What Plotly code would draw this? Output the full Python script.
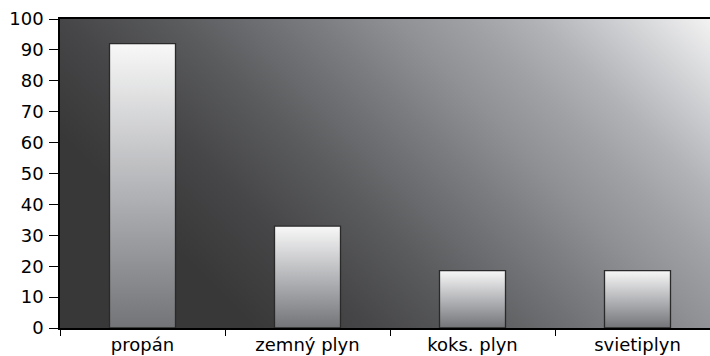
import base64
import plotly.graph_objects as go

# Data
categories = ["propán", "zemný plyn", "koks. plyn", "svietiplyn"]
values = [92, 33, 18.6, 18.6]
y_ticks = [0, 10, 20, 30, 40, 50, 60, 70, 80, 90, 100]

BAR_WIDTH = 0.4
FONT = "DejaVu Sans"


def svg_uri(svg):
    return "data:image/svg+xml;base64," + base64.b64encode(svg.encode("utf-8")).decode("ascii")


# Plot-area background: 45° gradient from dark (bottom-left) to near white (top-right)
W, H = 650, 309
D = 660 + H
bg_stops = [
    (0.00, "#383838"), (0.20, "#383838"), (0.32, "#464648"), (0.44, "#5b5c5e"),
    (0.58, "#7b7c80"), (0.66, "#8f9093"), (0.74, "#a0a1a4"), (0.81, "#b1b3b6"),
    (0.88, "#cacbce"), (1.00, "#f6f6f6"),
]
bg_svg = (
    f'<svg xmlns="http://www.w3.org/2000/svg" width="{W}" height="{H}" '
    f'viewBox="0 0 {W} {H}" preserveAspectRatio="none">'
    f'<defs><linearGradient id="g" gradientUnits="userSpaceOnUse" '
    f'x1="0" y1="{H}" x2="{D / 2}" y2="{H - D / 2}">'
    + "".join(f'<stop offset="{o}" stop-color="{c}"/>' for o, c in bg_stops)
    + f'</linearGradient></defs><rect width="{W}" height="{H}" fill="url(#g)"/></svg>'
)

# Bar fill: vertical gradient, light at the top and grey at the base
bar_svg = (
    '<svg xmlns="http://www.w3.org/2000/svg" width="10" height="100" '
    'viewBox="0 0 10 100" preserveAspectRatio="none">'
    '<defs><linearGradient id="b" x1="0" y1="0" x2="0" y2="1">'
    '<stop offset="0" stop-color="#f8f8f8"/>'
    '<stop offset="0.5" stop-color="#b5b6b9"/>'
    '<stop offset="1" stop-color="#737477"/>'
    '</linearGradient></defs><rect width="10" height="100" fill="url(#b)"/></svg>'
)

images = [dict(
    source=svg_uri(bg_svg), xref="paper", yref="paper", x=0, y=1,
    sizex=1, sizey=1, xanchor="left", yanchor="top", sizing="stretch", layer="below",
)]
for i, v in enumerate(values):
    images.append(dict(
        source=svg_uri(bar_svg), xref="x", yref="y", x=i - BAR_WIDTH / 2, y=v,
        sizex=BAR_WIDTH, sizey=v, xanchor="left", yanchor="top",
        sizing="stretch", layer="below",
    ))

fig = go.Figure(go.Bar(
    x=categories, y=values, width=BAR_WIDTH,
    marker=dict(color="rgba(0,0,0,0)", line=dict(color="#2a2a2a", width=1.3)),
    hoverinfo="x+y",
))

fig.update_layout(
    width=710, height=356,
    margin=dict(l=60, r=0, t=19, b=28, pad=0),
    paper_bgcolor="white", plot_bgcolor="#383838",
    font=dict(family=FONT, size=18, color="black"),
    showlegend=False,
    images=images,
    xaxis=dict(
        type="category", range=[-0.5, -0.5 + 650 / 165],
        tickson="boundaries", ticks="outside", ticklen=6, tickwidth=1, tickcolor="black",
        showline=True, linecolor="black", linewidth=1.5, mirror=True,
        showgrid=False, zeroline=False,
        tickfont=dict(family=FONT, size=18, color="black"),
    ),
    yaxis=dict(
        range=[0, 100], tickvals=y_ticks, ticks="outside", ticklen=9, tickwidth=1,
        tickcolor="black", showline=True, linecolor="black", linewidth=1.5,
        showgrid=False, zeroline=False, ticklabelstandoff=2,
        tickfont=dict(family=FONT, size=18, color="black"),
    ),
)

fig.write_html("out.html")
